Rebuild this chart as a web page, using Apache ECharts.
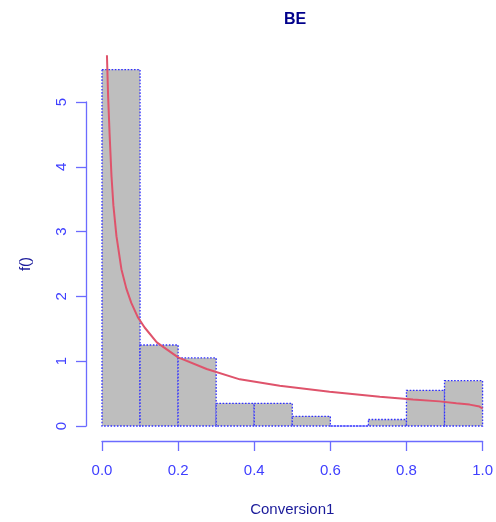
<!DOCTYPE html>
<html>
<head>
<meta charset="utf-8">
<script src="https://cdn.jsdelivr.net/npm/echarts@6/dist/echarts.min.js"></script>
<style>html,body{margin:0;padding:0;background:#fff;}#c{width:496px;height:522px;}</style>
</head>
<body>
<div id="c"></div>
<script>
// Histogram bins (edges) and densities
var binStart = [0.0, 0.1, 0.2, 0.3, 0.4, 0.5, 0.6, 0.7, 0.8, 0.9];
var binEnd   = [0.1, 0.2, 0.3, 0.4, 0.5, 0.6, 0.7, 0.8, 0.9, 1.0];
var density  = [5.5, 1.25, 1.05, 0.35, 0.35, 0.15, 0.0, 0.1, 0.55, 0.7];

// Fitted density curve
var curveX = [0.013, 0.016, 0.020, 0.025, 0.030, 0.038, 0.051, 0.064, 0.077, 0.094, 0.112, 0.144, 0.20, 0.275, 0.362, 0.467, 0.598, 0.73, 0.817, 0.887, 0.931, 0.966, 0.992, 1.0];
var curveY = [5.72, 5.10, 4.50, 3.85, 3.40, 2.93, 2.42, 2.12, 1.90, 1.68, 1.52, 1.29, 1.06, 0.88, 0.72, 0.62, 0.53, 0.45, 0.41, 0.38, 0.35, 0.33, 0.30, 0.27];

var histData = binStart.map(function (s, i) { return [s, binEnd[i], density[i]]; });
var curveData = curveX.map(function (x, i) { return [x, curveY[i]]; });

var axisBlue = '#6b6bff';
var labelBlue = '#3f3fff';
var navy = '#1a1a9a';
var font = 'Liberation Sans, Arial, sans-serif';

var chart = echarts.init(document.getElementById('c'), null, {renderer: 'canvas'});
chart.setOption({
  backgroundColor: '#ffffff',
  animation: false,
  title: {
    text: 'BE', left: 279, top: 7,
    textStyle: {fontFamily: font, fontWeight: 'bold', fontSize: 16, color: '#00008B'}
  },
  grid: {left: 102, right: 13, top: 102, bottom: 95, containLabel: false},
  xAxis: {
    type: 'value', min: 0, max: 1, interval: 0.2, offset: 15,
    name: 'Conversion1', nameLocation: 'middle', nameGap: 61,
    nameTextStyle: {fontFamily: font, fontSize: 15, color: navy},
    axisLine: {show: true, onZero: false, lineStyle: {color: axisBlue, width: 1.3}},
    axisTick: {show: true, length: 10, lineStyle: {color: axisBlue, width: 1.3}},
    axisLabel: {fontFamily: font, fontSize: 15, color: labelBlue, margin: 22,
      formatter: function (v) { return v.toFixed(1); }},
    splitLine: {show: false}
  },
  yAxis: {
    type: 'value', min: 0, max: 5, interval: 1, offset: 16,
    name: 'f()', nameLocation: 'middle', nameGap: 53, nameRotate: 90,
    nameTextStyle: {fontFamily: font, fontSize: 15, color: navy},
    axisLine: {show: true, onZero: false, lineStyle: {color: axisBlue, width: 1.3}},
    axisTick: {show: true, length: 10, lineStyle: {color: axisBlue, width: 1.3}},
    axisLabel: {fontFamily: font, fontSize: 15, color: labelBlue, margin: 24, rotate: 90,
      verticalAlign: 'middle', align: 'center'},
    splitLine: {show: false}
  },
  series: [
    {
      type: 'custom',
      clip: false,
      data: histData,
      renderItem: function (params, api) {
        var p0 = api.coord([api.value(0), api.value(2)]);
        var p1 = api.coord([api.value(1), 0]);
        return {
          type: 'rect',
          shape: {x: p0[0], y: p0[1], width: p1[0] - p0[0], height: p1[1] - p0[1]},
          style: {fill: '#bebebe', stroke: '#3030ff', lineWidth: 1.3, lineDash: [1.6, 1.6]}
        };
      },
      z: 1
    },
    {
      type: 'line',
      clip: false,
      data: curveData,
      showSymbol: false,
      smooth: false,
      lineStyle: {color: '#DF536B', width: 2},
      z: 2
    }
  ]
});
</script>
</body>
</html>
